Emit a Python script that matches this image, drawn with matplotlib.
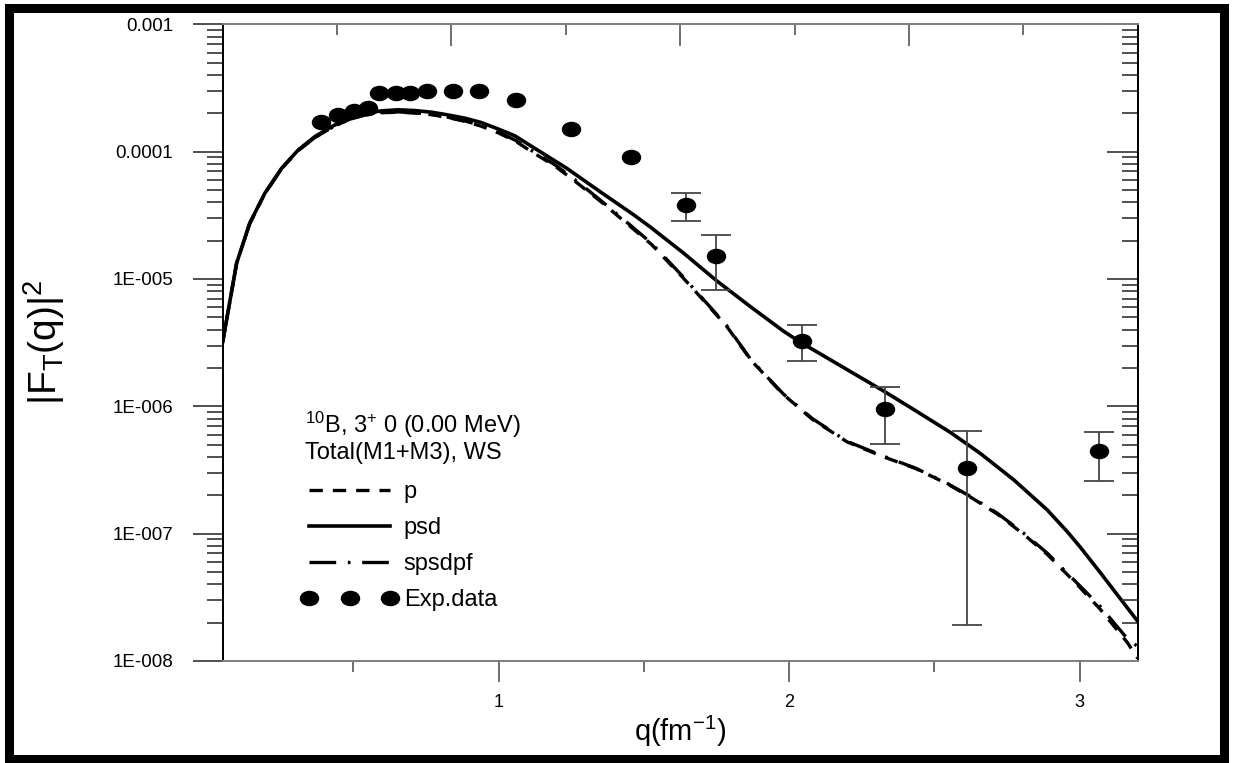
import numpy as np
import matplotlib
matplotlib.use("Agg")
import matplotlib.pyplot as plt
from matplotlib.path import Path
from matplotlib.patches import Rectangle
from matplotlib.ticker import LogLocator, NullFormatter, FixedLocator

plt.rcParams['font.family'] = ['Liberation Sans', 'DejaVu Sans']
plt.rcParams['mathtext.fontset'] = 'custom'
plt.rcParams['mathtext.rm'] = 'Liberation Sans'
plt.rcParams['mathtext.it'] = 'Liberation Sans:italic'
plt.rcParams['mathtext.bf'] = 'Liberation Sans:bold'

# psd (solid)
q_psd = [0.05, 0.098, 0.143, 0.195, 0.253, 0.31, 0.367, 0.425, 0.482, 0.539,
         0.597, 0.654, 0.712, 0.769, 0.826, 0.884, 0.941, 1.0, 1.056, 1.119,
         1.234, 1.349, 1.464, 1.521, 1.636, 1.751, 1.866, 1.98, 2.045, 2.095, 2.21,
         2.325, 2.44, 2.555, 2.658, 2.773, 2.888, 2.957, 3.003, 3.071, 3.2]
psd = [3.2e-6, 1.33e-5, 2.74e-5, 4.71e-5, 7.41e-5, 1.03e-4, 1.31e-4, 1.57e-4, 1.83e-4, 2.0e-4,
       2.09e-4, 2.13e-4, 2.1e-4, 2.04e-4, 1.94e-4, 1.83e-4, 1.69e-4, 1.5e-4, 1.33e-4, 1.08e-4,
       7.41e-5, 4.85e-5, 3.2e-5, 2.57e-5, 1.6e-5, 9.66e-6, 6.08e-6, 3.9e-6, 3.12e-6, 2.68e-6, 1.88e-6,
       1.32e-6, 9.1e-7, 6.24e-7, 4.27e-7, 2.65e-7, 1.54e-7, 1.04e-7, 7.8e-8, 4.95e-8, 2.05e-8]

# p (dashed) and spsdpf (dash-dot)
q_low = [0.05, 0.098, 0.143, 0.195, 0.253, 0.31, 0.367, 0.425, 0.482, 0.539,
         0.597, 0.654, 0.712, 0.769, 0.826, 0.884, 0.941, 1.0, 1.06, 1.119,
         1.194, 1.263, 1.349, 1.452, 1.527, 1.63, 1.705, 1.785, 1.87, 1.98,
         2.08, 2.2, 2.32, 2.435, 2.543, 2.624, 2.716, 2.807, 2.888, 2.991,
         3.071, 3.164, 3.2]
p = [3.2e-6, 1.33e-5, 2.72e-5, 4.68e-5, 7.35e-5, 1.02e-4, 1.29e-4, 1.54e-4, 1.78e-4, 1.94e-4,
     2.02e-4, 2.04e-4, 2.01e-4, 1.95e-4, 1.85e-4, 1.73e-4, 1.58e-4, 1.4e-4, 1.2e-4, 9.8e-5,
     7.7e-5, 5.85e-5, 4.1e-5, 2.6e-5, 1.86e-5, 1.05e-5, 6.8e-6, 4.25e-6, 2.28e-6, 1.24e-6,
     7.9e-7, 5.25e-7, 4.05e-7, 3.25e-7, 2.47e-7, 1.94e-7, 1.43e-7, 9.9e-8, 6.9e-8, 4.0e-8,
     2.55e-8, 1.4e-8, 1.05e-8]
spsdpf = [3.2e-6, 1.33e-5, 2.72e-5, 4.68e-5, 7.35e-5, 1.02e-4, 1.29e-4, 1.54e-4, 1.78e-4, 1.94e-4,
          2.03e-4, 2.05e-4, 2.02e-4, 1.96e-4, 1.86e-4, 1.74e-4, 1.6e-4, 1.42e-4, 1.22e-4, 1.0e-4,
          7.87e-5, 6.0e-5, 4.18e-5, 2.66e-5, 1.9e-5, 1.07e-5, 6.9e-6, 4.3e-6, 2.3e-6, 1.25e-6,
          8.0e-7, 5.3e-7, 4.1e-7, 3.27e-7, 2.49e-7, 1.96e-7, 1.45e-7, 1.01e-7, 7.05e-8, 4.1e-8,
          2.68e-8, 1.5e-8, 1.3e-8]

# experimental data
q_exp = [0.39, 0.447, 0.503, 0.549, 0.588, 0.645, 0.694, 0.752, 0.844, 0.933,
         1.059, 1.248, 1.456, 1.645, 1.749, 2.045, 2.331, 2.612, 3.068]
f_exp = [1.72e-4, 1.94e-4, 2.1e-4, 2.19e-4, 2.9e-4, 2.9e-4, 2.9e-4, 3.0e-4, 3.0e-4, 3.0e-4,
         2.55e-4, 1.51e-4, 9.04e-5, 3.82e-5, 1.52e-5, 3.28e-6, 9.56e-7, 3.29e-7, 4.48e-7]
# error bars (only for q > 1.6)
q_err = [1.645, 1.749, 2.045, 2.331, 2.612, 3.068]
f_err = [3.82e-5, 1.52e-5, 3.28e-6, 9.56e-7, 3.29e-7, 4.48e-7]
err_hi = [4.77e-5, 2.21e-5, 4.34e-6, 1.41e-6, 6.42e-7, 6.34e-7]
err_lo = [2.84e-5, 8.21e-6, 2.26e-6, 5.05e-7, 1.93e-8, 2.6e-7]

ytick_vals = [1e-3, 1e-4, 1e-5, 1e-6, 1e-7, 1e-8]
ytick_labels = ['0.001', '0.0001', '1E-005', '1E-006', '1E-007', '1E-008']
xtick_vals = [1, 2, 3]

fig = plt.figure(figsize=(12.33, 7.63), dpi=100)
ax = fig.add_axes([0.1806, 0.1337, 0.7421, 0.8345])

# elliptic marker like the original
circ = Path.unit_circle()
ell = Path(circ.vertices * np.array([1.0, 0.78]), circ.codes)

ax.plot(q_low, p, color='black', lw=2.4, dashes=(4, 3), label='p')
ax.plot(q_psd, psd, color='black', lw=2.6, label='psd')
ax.plot(q_low, spsdpf, color='black', lw=2.4, dashes=(8, 3.5, 0.8, 3.5), label='spsdpf')

yerr = [np.array(f_err) - np.array(err_lo), np.array(err_hi) - np.array(f_err)]
ax.errorbar(q_err, f_err, yerr=yerr, fmt='none', ecolor='#444444', elinewidth=1.3,
            capsize=11, capthick=1.3)
ax.plot(q_exp, f_exp, ls='none', marker=ell, markersize=13, color='black',
        label='Exp.data')

ax.set_yscale('log')
ax.set_ylim(1e-8, 1e-3)
ax.set_xlim(0.05, 3.2)

ax.set_yticks(ytick_vals)
ax.set_yticklabels(ytick_labels, fontsize=13.5)
ax.yaxis.set_minor_locator(LogLocator(base=10, subs=np.arange(2, 10)))
ax.yaxis.set_minor_formatter(NullFormatter())
ax.set_xticks(xtick_vals)
ax.set_xticklabels([str(v) for v in xtick_vals], fontsize=13)
ax.xaxis.set_minor_locator(FixedLocator([0.5, 1.5, 2.5]))

ax.tick_params(axis='y', which='major', direction='out', length=21.5, width=1.2,
               color='#333333', pad=14, left=True, right=False)
ax.tick_params(axis='y', which='minor', direction='out', length=11.5, width=1.2,
               color='#333333', left=True, right=False)
ax.tick_params(axis='x', which='major', direction='out', length=15, width=1.2,
               color='#555555', pad=9, top=False, bottom=True)
ax.tick_params(axis='x', which='minor', direction='out', length=8, width=1.2,
               color='#555555', top=False)

# right side ticks pointing inward
axr = ax.twinx()
axr.set_yscale('log')
axr.set_ylim(1e-8, 1e-3)
axr.set_yticks(ytick_vals)
axr.yaxis.set_minor_locator(LogLocator(base=10, subs=np.arange(2, 10)))
axr.yaxis.set_minor_formatter(NullFormatter())
axr.tick_params(axis='y', which='major', direction='in', length=22, width=1.2,
                color='#333333', labelright=False)
axr.tick_params(axis='y', which='minor', direction='in', length=11.5, width=1.2,
                color='#333333')

# top axis has its own ticks
axt = ax.twiny()
axt.set_xlim(0, 4)
axt.set_xticks([1, 2, 3])
axt.xaxis.set_minor_locator(FixedLocator([0.5, 1.5, 2.5, 3.5]))
axt.tick_params(axis='x', which='major', direction='in', length=16, width=1.2,
                color='#555555', labeltop=False)
axt.tick_params(axis='x', which='minor', direction='in', length=8, width=1.2,
                color='#555555')

for a in (ax, axr, axt):
    a.spines['left'].set_color('black')
    a.spines['right'].set_color('black')
    a.spines['top'].set_color('#808080')
    a.spines['bottom'].set_color('#808080')
    for s in a.spines.values():
        s.set_linewidth(1.4)

ax.set_xlabel(r'q(fm$^{-1}$)', fontsize=21)
ax.xaxis.set_label_coords(0.5, -0.083)
ax.set_ylabel(r'|F$_{\mathrm{T}}$(q)|$^{2}$', fontsize=28)
ax.yaxis.set_label_coords(-0.17, 0.5)

ax.text(0.09, 0.371, r'$^{10}$B, 3$^{+}$ 0 (0.00 MeV)', transform=ax.transAxes,
        fontsize=17, va='center', ha='left')
ax.text(0.09, 0.327, 'Total(M1+M3), WS', transform=ax.transAxes,
        fontsize=17, va='center', ha='left')
ax.legend(loc='upper left', bbox_to_anchor=(0.087, 0.283), frameon=False,
          fontsize=17, numpoints=3, handlelength=4.0, handletextpad=0.3,
          labelspacing=0.6, borderaxespad=0, borderpad=0)

# thick frame around the whole picture
rect = Rectangle((8.5 / 1233, 4 / 763), 1215 / 1233, 751 / 763, fill=False,
                 lw=6.5, edgecolor='black', transform=fig.transFigure,
                 figure=fig, joinstyle='miter')
fig.patches.append(rect)

fig.savefig('out.png', dpi=100)
